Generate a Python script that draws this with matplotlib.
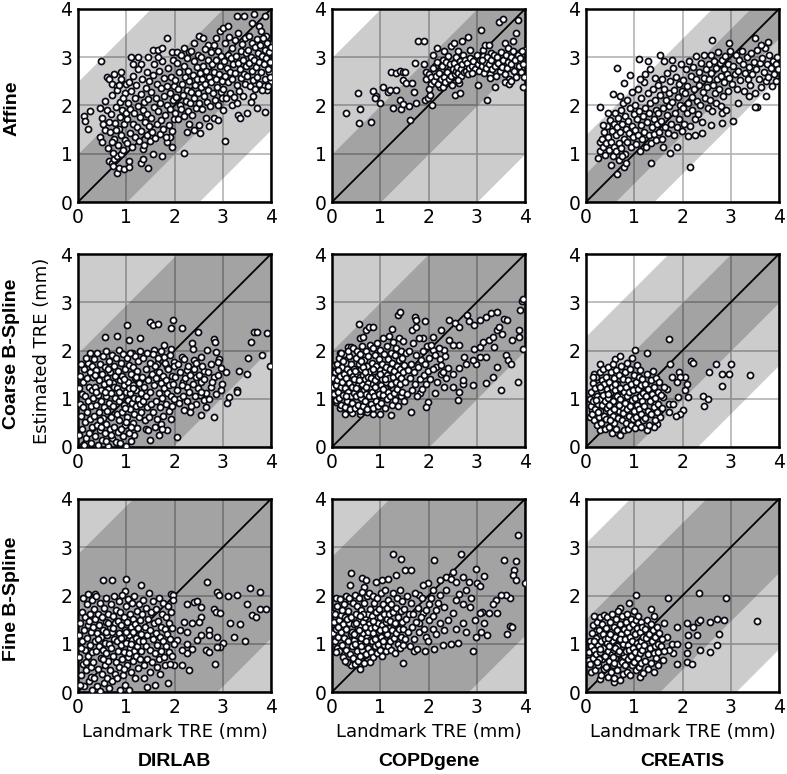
import matplotlib.pyplot as plt
import numpy as np

datasets = ['DIRLAB', 'COPDgene', 'CREATIS']
methods = ['Affine', 'Coarse B-Spline', 'Fine B-Spline']
ticks = [0, 1, 2, 3, 4]

# half widths (mm) of the dark and light bands around y = x, [method][dataset]
band_inner = [[1.0, 1.0, 0.6], [1.95, 2.0, 1.0], [2.87, 2.82, 1.52]]
band_outer = [[2.5, 3.0, 1.4], [4.5, 4.5, 2.3], [5.0, 5.0, 3.1]]

# (landmark TRE, estimated TRE) in mm
dirlab_affine = [
    (0.12,1.78),(0.15,1.68),(0.2,1.52),(0.25,1.88),(0.47,2.92),
    (0.45,1.35),(0.5,1.25),(0.55,1.5),(0.5,1.75),(0.45,1.95),(0.55,2.1),(0.6,1.9),(0.52,1.62),
    (0.6,2.6),(0.65,2.55),(0.75,2.65),(0.7,2.45),(0.8,2.4),(0.9,2.55),(0.9,2.7),(1.0,2.45),
    (0.65,0.85),(0.7,0.8),(0.72,0.75),(0.75,0.9),(0.8,0.6),(0.85,0.7),(0.95,0.68),(1.05,0.72),
    (0.8,0.95),(0.9,1.0),(1.05,0.85),(1.3,0.8),(1.35,0.9),(1.45,0.7),(1.35,1.1),(1.55,1.0),
    (1.75,0.95),(1.85,1.25),(1.9,1.35),(1.95,1.15),
    (1.1,3.0),(1.25,3.0),(1.3,2.85),(1.45,3.0),(1.55,3.15),(1.65,3.15),(1.75,3.2),(1.85,3.4),
    (1.95,3.1),(2.05,3.1),(2.2,3.2),(2.3,3.1),(2.4,3.3),(2.5,3.45),(2.6,3.4),(2.7,3.25),
    (2.85,3.4),(2.95,3.55),(3.0,3.6),(3.1,3.65),(3.29,3.85),(3.45,3.85),(3.65,3.89),(3.6,3.7),
    (3.75,3.65),(3.8,3.55),(3.88,3.85),(3.9,3.45),(3.95,3.3),
    (2.2,1.02),(2.25,1.45),(2.4,1.5),(2.53,1.42),(2.5,1.6),(2.72,1.58),(2.81,1.74),(3.05,1.27),
    (2.91,1.7),(3.0,1.9),(3.2,2.0),(3.32,1.8),(3.36,1.74),(3.5,1.85),(3.58,2.08),(3.7,1.94),
    (3.88,1.87),(3.91,2.33),(3.85,2.4),(3.99,2.5),(3.95,2.7),
    (0.62,1.12),(0.66,1.45),(0.68,1.83),(0.71,2.21),(0.73,1.02),(0.75,1.31),(0.77,1.64),(0.79,1.97),
    (0.81,2.33),(0.83,1.18),(0.85,1.52),(0.87,1.76),(0.88,2.08),(0.9,1.38),(0.92,1.9),(0.94,1.07),
    (0.95,1.61),(0.97,2.25),(0.98,1.28),(0.99,1.84),(0.64,1.66),(0.7,1.25),(0.86,2.42),(0.93,2.15),
    (0.78,1.49),
    (1.01,1.22),(1.02,1.71),(1.04,2.05),(1.05,2.48),(1.07,1.43),(1.08,1.93),(1.1,2.3),(1.11,1.15),
    (1.13,1.62),(1.14,2.62),(1.16,1.84),(1.18,2.16),(1.19,1.35),(1.21,2.42),(1.22,1.55),(1.24,1.98),
    (1.25,2.75),(1.27,1.26),(1.28,1.76),(1.3,2.23),(1.31,1.48),(1.33,2.55),(1.34,1.9),(1.36,1.18),
    (1.37,2.07),(1.39,1.66),(1.4,2.37),(1.42,1.38),(1.43,2.69),(1.44,1.83),(1.46,2.14),(1.47,1.57),
    (1.48,2.5),(1.49,1.27),(1.15,2.85),
    (1.51,1.74),(1.52,2.28),(1.54,1.45),(1.55,2.63),(1.57,1.96),(1.58,2.85),(1.6,1.33),(1.61,2.15),
    (1.63,1.62),(1.64,2.45),(1.66,1.88),(1.67,2.72),(1.69,1.41),(1.7,2.05),(1.72,2.36),(1.73,1.7),
    (1.75,2.92),(1.76,1.52),(1.78,2.2),(1.79,2.58),(1.81,1.8),(1.82,1.35),(1.84,2.41),(1.85,2.01),
    (1.87,2.78),(1.88,1.6),(1.9,2.25),(1.91,1.93),(1.93,2.6),(1.94,1.48),(1.96,2.12),(1.97,2.95),
    (1.98,1.72),(1.99,2.4),(1.65,3.0),
    (2.01,1.85),(2.02,2.52),(2.04,2.18),(2.05,2.88),(2.07,1.72),(2.08,2.35),(2.1,2.7),(2.11,2.02),
    (2.13,3.05),(2.14,1.93),(2.16,2.45),(2.17,2.22),(2.19,2.82),(2.2,1.78),(2.22,2.6),(2.23,2.1),
    (2.25,2.98),(2.26,2.33),(2.28,1.88),(2.29,2.72),(2.31,2.5),(2.32,2.05),(2.34,3.12),(2.35,2.28),
    (2.37,1.8),(2.38,2.64),(2.4,2.92),(2.41,2.15),(2.43,2.42),(2.44,1.95),(2.46,2.8),(2.47,2.55),
    (2.48,3.05),(2.49,2.25),(2.3,1.62),
    (2.51,2.05),(2.52,2.68),(2.54,2.38),(2.55,3.0),(2.57,1.92),(2.58,2.55),(2.6,2.82),(2.61,2.2),
    (2.63,3.18),(2.64,2.45),(2.66,2.72),(2.67,2.08),(2.69,2.95),(2.7,2.32),(2.72,2.6),(2.73,1.98),
    (2.75,3.1),(2.76,2.48),(2.78,2.85),(2.79,2.25),(2.81,2.7),(2.82,3.25),(2.84,2.12),(2.85,2.55),
    (2.87,2.95),(2.88,2.38),(2.9,3.12),(2.91,2.02),(2.93,2.65),(2.94,2.82),(2.96,2.28),(2.97,3.02),
    (2.98,2.5),(2.99,2.15),(2.65,1.75),
    (3.01,2.35),(3.02,2.92),(3.04,2.62),(3.05,3.3),(3.07,2.15),(3.08,2.78),(3.1,3.05),(3.11,2.48),
    (3.13,3.42),(3.14,2.7),(3.16,2.25),(3.17,2.98),(3.19,3.2),(3.2,2.55),(3.22,2.85),(3.23,2.18),
    (3.25,3.35),(3.26,2.68),(3.28,3.02),(3.29,2.42),(3.31,2.88),(3.32,3.5),(3.34,2.3),(3.35,2.75),
    (3.37,3.12),(3.38,2.58),(3.4,3.28),(3.41,2.2),(3.43,2.95),(3.44,2.65),(3.46,3.4),(3.47,2.45),
    (3.48,3.08),(3.49,2.82),(3.3,2.05),
    (3.51,2.62),(3.52,3.15),(3.54,2.88),(3.55,3.45),(3.57,2.4),(3.58,3.0),(3.6,2.72),(3.61,3.3),
    (3.63,2.52),(3.64,2.95),(3.66,3.22),(3.67,2.35),(3.69,2.8),(3.7,3.38),(3.72,2.6),(3.73,3.08),
    (3.75,2.45),(3.76,2.9),(3.78,3.25),(3.79,2.7),(3.81,3.02),(3.82,2.32),(3.84,3.4),(3.85,2.85),
    (3.87,3.15),(3.88,2.55),(3.9,2.98),(3.91,3.3),(3.93,2.4),(3.94,2.75),(3.96,3.1),(3.97,2.6),
    (3.98,2.9),(3.99,3.22),(3.62,2.2),
]

copd_affine = [
    (0.28,1.85),(0.54,2.25),(0.59,1.93),(0.56,1.63),(0.8,1.66),(0.85,2.31),(0.92,2.2),(0.9,2.15),
    (1.0,2.05),(1.06,2.38),(1.16,2.27),(1.21,2.32),(1.23,2.7),(1.33,2.68),(1.4,2.72),(1.47,2.7),
    (1.52,2.7),(1.26,1.94),(1.33,2.32),(1.4,2.11),(1.43,1.92),(1.47,2.04),(1.48,2.52),(1.54,2.46),
    (1.59,1.98),(1.62,1.69),(1.66,2.47),(1.69,2.27),(1.72,2.88),(1.74,2.06),(1.79,3.34),(1.9,3.34),
    (1.9,2.86),(1.95,2.7),(1.92,2.11),(1.99,2.15),(2.03,2.22),(2.08,2.01),(2.09,3.05),(2.14,2.82),
    (2.17,3.19),(2.19,2.54),(2.23,2.39),(2.26,2.74),(2.3,2.95),(2.33,3.12),(2.37,2.46),(2.4,3.02),
    (2.43,2.74),(2.47,3.23),(2.52,3.29),(2.54,2.22),(2.57,2.95),(2.61,3.12),(2.64,2.46),(2.66,2.25),
    (2.7,3.33),(2.72,3.05),(2.78,2.81),(2.82,3.43),(2.85,3.15),(2.88,2.91),(2.92,2.7),(2.95,2.88),
    (2.99,2.98),(3.02,2.43),(3.09,3.57),(3.12,3.15),(3.17,3.26),(3.21,2.11),(3.26,3.26),(3.3,3.08),
    (3.33,2.91),(3.37,2.39),(3.41,2.91),(3.46,3.74),(3.54,3.79),(3.59,3.29),(3.64,3.19),(3.68,2.53),
    (3.71,2.77),(3.76,3.33),(3.81,3.5),(3.85,3.77),(3.88,3.08),(3.92,2.7),(3.95,2.39),(3.99,3.15),
    (1.95,2.55),(2.0,2.65),(2.05,2.45),(2.06,2.6),(2.1,2.78),(2.12,2.5),(2.15,2.62),(2.18,2.9),
    (2.2,2.45),(2.22,2.68),(2.25,2.55),(2.28,2.82),(2.3,2.38),(2.32,2.6),(2.35,2.48),(2.36,2.9),
    (2.38,2.7),(2.42,2.55),(2.44,2.85),(2.46,2.62),(2.5,2.75),(2.52,2.88),(2.55,2.65),(2.56,3.0),
    (2.58,2.72),(2.6,2.8),(2.62,2.68),(2.65,2.92),(2.67,2.75),(2.68,2.62),(2.7,2.85),(2.73,2.7),
    (2.75,2.95),(2.77,2.72),(2.8,2.88),(2.82,2.65),(2.84,2.78),(2.86,2.98),(2.9,2.82),(2.93,2.92),
    (2.96,2.75),(3.0,3.05),(3.02,2.85),(3.05,2.72),(3.07,2.95),(3.1,2.82),(3.13,3.02),(3.15,2.68),
    (3.18,2.9),(3.2,2.78),(3.22,3.0),(3.25,2.85),(3.28,2.65),(3.3,2.95),(3.32,2.75),(3.35,3.05),
    (3.38,2.82),(3.4,2.62),(3.42,3.0),(3.45,2.88),(3.48,2.72),(3.5,3.1),(3.52,2.8),(3.55,2.95),
    (3.58,2.65),(3.6,3.05),(3.62,2.78),(3.65,2.9),(3.67,2.55),(3.7,3.0),(3.72,2.85),(3.75,3.12),
    (3.78,2.72),(3.8,2.95),(3.82,2.6),(3.85,3.05),(3.87,2.82),(3.9,2.98),(3.93,3.12),(3.96,2.85),
    (3.98,2.6),(3.58,2.48),(3.66,2.45),(3.72,2.5),(3.27,2.58),(2.48,2.42),(2.62,2.52),(2.9,2.68),
    (3.1,2.95),(2.02,2.35),
]

creatis_affine = [
    (0.28,1.96),(0.25,0.92),(0.28,1.25),(0.64,2.78),(0.56,2.24),(0.71,2.19),(0.78,2.46),(0.92,2.64),
    (1.09,2.96),(1.28,2.92),(1.33,2.75),(1.54,3.04),(1.62,2.92),(1.34,0.8),(0.64,0.59),(0.52,0.77),
    (0.79,0.73),(0.83,0.81),(2.15,0.73),(2.62,3.35),(2.97,3.3),(3.5,3.39),(3.77,3.32),(3.94,2.5),
    (3.55,1.97),(3.5,1.97),(3.05,1.67),(2.81,1.84),(2.81,1.63),(2.6,1.6),(2.4,1.44),(2.26,1.39),
    (2.12,1.37),(1.88,1.13),(1.74,1.01),(1.6,1.15),(3.74,2.19),(3.38,2.19),(3.15,2.05),
    (0.3,1.05),(0.33,1.3),(0.36,1.15),(0.38,1.45),(0.4,0.98),(0.42,1.22),(0.44,1.58),(0.46,1.35),
    (0.48,1.08),(0.5,1.7),(0.52,1.25),(0.54,1.48),(0.55,0.95),(0.57,1.62),(0.58,1.15),(0.6,1.85),
    (0.62,1.38),(0.63,1.05),(0.65,1.55),(0.67,1.75),(0.68,1.22),(0.69,0.88),(0.35,1.6),(0.45,1.85),
    (0.7,1.45),(0.72,1.9),(0.73,1.12),(0.75,1.62),(0.76,2.05),(0.78,1.3),(0.8,1.78),(0.81,1.0),
    (0.83,1.52),(0.85,2.12),(0.86,1.25),(0.88,1.68),(0.9,1.42),(0.91,1.95),(0.93,1.15),(0.95,1.58),
    (0.96,2.28),(0.98,1.35),(0.99,1.82),(0.74,0.95),
    (1.01,1.5),(1.02,2.02),(1.04,1.2),(1.05,1.72),(1.07,2.35),(1.08,1.38),(1.1,1.88),(1.12,1.05),
    (1.13,1.6),(1.15,2.15),(1.16,1.3),(1.18,1.78),(1.2,2.48),(1.21,1.45),(1.23,1.95),(1.25,1.15),
    (1.26,1.65),(1.28,2.25),(1.3,1.38),(1.31,1.85),(1.33,2.05),(1.35,1.22),(1.36,1.55),(1.38,2.35),
    (1.4,1.72),(1.41,1.4),(1.43,2.12),(1.45,1.9),(1.46,1.28),(1.48,1.62),(1.49,2.42),(1.22,2.65),
    (1.44,2.58),(1.12,2.55),
    (1.5,1.85),(1.52,1.45),(1.53,2.22),(1.55,1.68),(1.57,2.55),(1.58,1.3),(1.6,1.95),(1.62,2.35),
    (1.63,1.55),(1.65,2.12),(1.67,1.8),(1.68,2.68),(1.7,1.42),(1.72,2.25),(1.73,1.98),(1.75,2.5),
    (1.77,1.62),(1.78,2.08),(1.8,2.78),(1.82,1.38),(1.83,2.32),(1.85,1.85),(1.87,2.6),(1.88,1.55),
    (1.9,2.18),(1.92,2.45),(1.93,1.72),(1.95,2.0),(1.97,2.85),(1.98,1.48),(1.99,2.3),(1.79,2.95),
    (2.0,1.95),(2.02,2.52),(2.04,1.62),(2.05,2.25),(2.07,2.75),(2.09,1.85),(2.1,2.4),(2.12,2.05),
    (2.14,2.92),(2.15,1.58),(2.17,2.62),(2.19,2.18),(2.2,1.9),(2.22,2.8),(2.24,2.35),(2.25,1.72),
    (2.27,2.55),(2.29,3.02),(2.3,2.1),(2.32,1.82),(2.34,2.7),(2.35,2.42),(2.37,2.0),(2.39,2.88),
    (2.4,1.65),(2.42,2.28),(2.44,2.58),(2.45,3.05),(2.47,2.15),(2.49,2.75),
    (2.5,2.38),(2.52,1.95),(2.54,2.85),(2.55,2.55),(2.57,2.12),(2.59,3.05),(2.6,2.68),(2.62,1.88),
    (2.64,2.42),(2.65,2.92),(2.67,2.25),(2.69,2.78),(2.7,2.05),(2.72,2.55),(2.74,3.1),(2.75,2.35),
    (2.77,2.88),(2.79,1.98),(2.8,2.62),(2.82,2.95),(2.84,2.2),(2.85,2.75),(2.87,2.48),(2.89,3.02),
    (2.9,1.9),(2.92,2.65),(2.94,2.85),(2.95,2.3),(2.97,2.58),(2.99,3.12),
    (3.02,2.45),(3.05,2.82),(3.08,2.65),(3.1,3.05),(3.13,2.35),(3.15,2.72),(3.18,2.95),(3.2,2.52),
    (3.23,3.12),(3.25,2.85),(3.28,2.3),(3.3,2.68),(3.33,3.0),(3.35,2.55),(3.38,2.8),(3.4,2.42),
    (3.43,3.08),(3.45,2.65),(3.48,2.9),(3.5,2.25),(3.53,2.75),(3.55,3.15),(3.58,2.55),(3.6,2.88),
    (3.63,2.38),(3.65,2.98),(3.68,2.7),(3.7,3.2),(3.73,2.5),(3.75,2.85),(3.78,2.6),(3.8,3.05),
    (3.83,2.78),(3.85,2.4),(3.88,2.92),(3.9,2.65),(3.93,2.85),(3.95,3.0),(3.98,2.75),(3.62,3.25),
]

dirlab_coarse = [
    (0.55,2.28),(0.8,2.3),(1.02,2.53),(1.05,2.21),(1.29,2.25),(1.49,2.6),(1.56,2.53),(1.65,2.54),
    (1.92,2.46),(1.97,2.63),(2.16,2.46),(2.48,2.39),(2.37,2.15),(2.39,2.04),(2.82,2.23),(2.83,2.18),
    (2.68,2.01),(2.85,1.97),(2.92,1.83),(2.9,1.76),(3.06,1.56),(2.99,1.31),(2.96,1.18),(3.12,1.04),
    (3.09,0.91),(3.29,1.19),(3.3,1.14),(3.33,1.58),(3.51,1.52),(3.52,1.85),(3.59,2.18),(3.65,2.39),
    (3.72,2.39),(3.82,1.9),(3.92,2.37),(3.98,1.67),(2.82,0.62),(2.54,0.66),(2.53,1.07),(2.61,0.97),
    (2.66,1.11),(2.44,0.9),(2.33,0.73),(2.19,0.76),(2.06,0.21),(1.85,0.35),(1.67,0.24),(1.5,0.15),
    (1.16,0.24),(1.4,0.38),(1.71,0.48),(1.92,0.59),(2.75,1.25),(2.54,1.35),(2.82,1.45),(2.96,1.63),
    (2.75,1.71),(2.61,1.57),(2.44,1.45),(2.26,1.25),(2.18,1.35),(2.09,1.0),(2.26,1.6),(2.4,1.8),
    (2.54,1.87),(2.16,1.87),(1.99,1.76),(1.85,1.66),(1.78,1.87),(1.92,2.04),(1.78,2.11),(1.57,2.01),
    (1.64,1.73),
    (0.02,1.22),(0.04,0.9),(0.05,1.48),(0.06,0.65),(0.08,1.1),(0.09,0.38),(0.1,1.35),(0.11,0.82),
    (0.13,1.62),(0.14,0.52),(0.15,1.05),(0.16,0.18),(0.18,1.42),(0.19,0.72),(0.2,1.75),(0.21,0.95),
    (0.22,0.3),(0.23,1.25),(0.24,0.58),(0.25,1.55),(0.26,0.08),(0.27,0.85),(0.28,1.18),(0.29,1.68),
    (0.3,0.42),(0.12,0.05),(0.17,1.85),(0.07,1.72),(0.25,1.95),(0.03,0.25),
    (0.31,1.02),(0.32,1.45),(0.33,0.65),(0.34,1.82),(0.35,0.22),(0.36,1.25),(0.37,0.88),(0.38,1.6),
    (0.39,0.45),(0.4,1.95),(0.41,1.08),(0.42,0.05),(0.43,1.38),(0.44,0.72),(0.45,1.72),(0.46,0.35),
    (0.47,1.18),(0.48,0.95),(0.49,1.52),(0.5,0.15),(0.51,1.88),(0.52,0.6),(0.53,1.3),(0.54,0.82),
    (0.55,1.65),(0.56,0.28),(0.57,1.05),(0.58,1.98),(0.59,0.48),(0.6,1.42),(0.61,0.75),(0.62,1.2),
    (0.63,0.02),(0.64,1.78),(0.65,0.92),(0.66,0.38),(0.67,1.55),(0.68,1.12),(0.69,0.62),(0.7,1.9),
    (0.71,0.18),(0.72,1.32),(0.73,0.85),(0.74,1.68),(0.75,0.42),(0.76,1.02),(0.77,1.48),(0.78,0.1),
    (0.79,1.85),(0.8,0.68),(0.35,1.5),(0.45,0.55),(0.55,1.15),(0.65,1.35),(0.75,1.25),(0.58,0.12),
    (0.68,0.25),(0.48,0.42),(0.38,1.15),(0.62,1.62),
    (0.81,1.22),(0.82,0.32),(0.83,1.58),(0.84,0.95),(0.85,2.02),(0.86,0.55),(0.87,1.38),(0.88,0.08),
    (0.89,1.75),(0.9,1.05),(0.91,0.72),(0.92,1.48),(0.93,0.22),(0.94,1.92),(0.95,0.88),(0.96,1.28),
    (0.97,0.45),(0.98,1.62),(0.99,1.15),(1.0,0.02),(1.01,1.85),(1.02,0.62),(1.03,1.35),(1.04,0.98),
    (1.05,0.3),(1.06,1.7),(1.07,1.12),(1.08,0.78),(1.09,1.52),(1.1,0.12),(1.11,1.95),(1.12,0.92),
    (1.13,1.28),(1.14,0.5),(1.15,1.65),(1.16,1.02),(1.17,0.68),(1.18,1.42),(1.19,1.88),(1.2,0.85),
    (1.21,1.18),(1.22,0.4),(1.23,1.58),(1.24,1.0),(1.25,1.78),(1.26,0.62),(1.27,1.32),(1.28,0.9),
    (1.29,1.98),(1.3,1.12),(0.85,1.15),(0.95,1.4),(1.05,1.22),(1.15,1.22),(0.9,0.38),(1.0,0.52),
    (1.1,0.42),(0.98,0.8),(1.08,1.95),(1.2,1.45),
    (1.31,0.72),(1.32,1.45),(1.34,1.85),(1.35,0.95),(1.37,1.25),(1.38,0.55),(1.4,1.62),(1.41,1.05),
    (1.43,1.95),(1.44,0.82),(1.46,1.38),(1.47,0.62),(1.49,1.75),(1.5,1.15),(1.52,0.9),(1.53,1.52),
    (1.55,1.92),(1.56,0.72),(1.58,1.28),(1.59,1.68),(1.61,0.95),(1.62,1.42),(1.64,0.58),(1.65,1.85),
    (1.67,1.12),(1.68,1.55),(1.7,0.82),(1.71,1.32),(1.73,1.98),(1.74,1.02),(1.76,0.65),(1.77,1.48),
    (1.79,1.22),(1.8,1.75),(1.82,0.9),(1.83,1.38),(1.85,1.12),(1.86,1.62),(1.88,0.75),(1.89,1.28),
    (1.91,1.9),(1.92,1.05),(1.94,1.48),(1.95,0.85),(1.97,1.3),(1.98,1.68),(1.99,1.0),(1.45,0.35),
    (1.6,0.42),(1.75,0.38),
    (2.02,1.45),(2.05,1.18),(2.08,1.72),(2.1,0.92),(2.12,1.55),(2.15,1.28),(2.18,1.05),(2.2,1.82),
    (2.22,1.42),(2.25,0.95),(2.28,1.68),(2.3,1.15),(2.33,1.5),(2.35,0.85),(2.38,1.3),(2.4,1.62),
    (2.42,1.05),(2.45,1.75),(2.48,1.22),(2.5,1.5),(2.55,1.15),(2.58,1.68),(2.62,1.4),(2.65,0.82),
    (2.7,1.55),(2.72,1.0),(2.78,1.35),(2.85,1.1),(2.9,1.5),
]

copd_coarse = [
    (0.06,1.7),(0.16,1.94),(0.56,2.55),(0.57,2.25),(0.64,2.28),(0.71,2.42),(0.77,2.48),(0.85,2.48),
    (0.33,2.08),(0.4,2.08),(1.25,2.44),(1.37,2.73),(1.4,2.8),(1.71,2.69),(1.74,2.63),(1.92,2.62),
    (1.66,2.42),(1.74,2.49),(1.88,2.25),(2.09,2.27),(2.26,2.42),(2.43,2.63),(2.54,2.56),(2.64,2.48),
    (2.79,2.73),(2.84,2.62),(2.95,2.53),(3.06,2.64),(3.19,2.7),(3.3,2.78),(3.43,2.8),(3.57,2.66),
    (3.62,2.63),(3.74,2.21),(3.9,2.84),(3.93,3.03),(3.95,3.06),(3.88,2.42),(3.87,2.28),(3.95,2.04),
    (3.85,1.35),(3.5,1.19),(3.43,1.66),(3.33,1.45),(3.19,1.33),(2.92,1.28),(2.71,1.31),(2.72,1.38),
    (2.61,0.97),(2.64,1.14),(2.5,1.25),(2.33,1.25),(2.14,1.11),(1.99,0.93),(1.94,0.83),(1.83,1.11),
    (1.64,0.73),(1.23,0.66),(0.99,0.69),(0.85,0.69),(0.72,0.73),(0.59,0.69),(0.42,0.71),(0.26,0.69),
    (0.16,0.8),(0.08,0.93),(0.03,1.25),(3.06,1.87),(2.99,1.73),(2.92,1.81),(2.74,1.87),(2.78,1.73),
    (2.95,2.04),(3.06,2.08),(3.12,2.18),(3.26,2.21),(3.33,2.28),(3.43,2.42),(3.47,2.49),(3.52,2.35),
    (3.61,1.9),(3.64,1.8),(3.71,1.73),(3.36,2.08),(3.19,1.87),(2.64,2.11),(2.5,2.11),(2.43,2.21),
    (2.33,2.01),(2.23,1.83),(2.09,2.01),(2.16,1.66),(2.26,1.52),(2.4,1.63),(2.5,1.52),(2.64,1.63),
    (2.37,1.42),
    (0.03,1.42),(0.05,1.1),(0.06,1.55),(0.08,1.28),(0.09,0.98),(0.1,1.72),(0.11,1.38),(0.13,1.15),
    (0.14,1.85),(0.15,1.02),(0.16,1.48),(0.18,1.25),(0.19,0.88),(0.2,1.65),(0.21,1.35),(0.23,1.08),
    (0.24,1.92),(0.25,1.52),(0.26,0.82),(0.27,1.22),(0.29,1.75),(0.3,1.42),(0.31,0.95),(0.32,1.62),
    (0.33,1.15),(0.35,1.88),(0.36,1.32),(0.37,0.78),(0.38,1.55),(0.39,1.05),(0.12,1.6),(0.22,1.78),
    (0.34,1.98),(0.28,1.05),(0.18,1.95),
    (0.4,1.72),(0.41,1.25),(0.42,0.92),(0.43,1.48),(0.44,2.05),(0.45,1.12),(0.46,1.62),(0.47,0.8),
    (0.48,1.35),(0.49,1.85),(0.5,1.05),(0.51,1.52),(0.52,1.98),(0.53,0.88),(0.54,1.28),(0.55,1.72),
    (0.56,1.15),(0.57,0.75),(0.58,1.45),(0.59,1.92),(0.6,1.02),(0.61,1.62),(0.62,1.3),(0.63,2.1),
    (0.64,0.85),(0.65,1.5),(0.66,1.18),(0.67,1.8),(0.68,0.95),(0.69,1.4),(0.7,2.0),(0.71,1.1),
    (0.72,1.68),(0.73,0.78),(0.74,1.32),(0.75,1.88),(0.76,1.05),(0.77,1.55),(0.78,1.22),(0.79,2.12),
    (0.45,1.4),(0.55,1.38),(0.65,1.65),(0.75,1.45),(0.5,1.22),(0.6,1.78),(0.7,1.25),(0.48,1.58),
    (0.58,1.1),(0.68,1.55),
    (0.8,1.42),(0.81,0.9),(0.82,1.75),(0.83,1.15),(0.84,2.05),(0.85,1.3),(0.86,0.8),(0.87,1.58),
    (0.88,1.05),(0.89,1.9),(0.9,1.38),(0.91,0.95),(0.92,1.68),(0.93,1.2),(0.94,2.15),(0.95,1.48),
    (0.96,0.85),(0.97,1.82),(0.98,1.1),(0.99,1.6),(1.0,2.02),(1.01,1.28),(1.02,0.92),(1.03,1.72),
    (1.04,1.4),(1.05,2.25),(1.06,1.08),(1.07,1.55),(1.08,1.92),(1.09,1.22),(1.1,0.8),(1.11,1.65),
    (1.12,1.35),(1.13,2.1),(1.14,1.0),(1.15,1.5),(1.16,1.82),(1.17,1.15),(1.18,2.3),(1.19,1.42),
    (0.9,1.25),(1.0,1.52),(1.1,1.4),(0.85,1.62),(1.05,1.2),
    (1.2,1.62),(1.21,1.05),(1.22,1.95),(1.23,1.3),(1.24,0.88),(1.25,1.75),(1.26,1.45),(1.27,2.18),
    (1.28,1.12),(1.29,1.58),(1.3,1.9),(1.31,0.98),(1.32,1.35),(1.33,2.05),(1.34,1.68),(1.35,1.2),
    (1.36,1.5),(1.37,0.85),(1.38,2.25),(1.39,1.8),(1.4,1.3),(1.41,1.62),(1.42,1.05),(1.43,2.0),
    (1.44,1.42),(1.45,1.85),(1.46,1.15),(1.47,1.55),(1.48,2.2),(1.49,0.95),(1.5,1.7),(1.52,1.35),
    (1.54,1.95),(1.56,1.1),(1.58,1.6),
    (1.6,2.0),(1.62,1.42),(1.64,1.72),(1.66,1.18),(1.68,2.15),(1.7,1.55),(1.72,1.3),(1.74,1.9),
    (1.76,1.05),(1.78,1.65),(1.8,2.25),(1.82,1.4),(1.84,1.8),(1.86,1.2),(1.88,1.98),(1.9,1.5),
    (1.92,1.72),(1.94,1.3),(1.96,2.1),(1.98,1.58),(2.0,1.85),(2.03,1.4),(2.06,2.12),(2.1,1.62),
    (2.14,1.9),(2.18,1.35),(2.22,2.05),(2.26,1.7),(2.3,1.55),(2.35,1.88),
]

creatis_coarse = [
    (1.71,2.23),(1.01,2.01),(1.26,1.95),(0.28,1.71),(0.17,1.51),(0.61,1.83),(0.71,1.88),(1.74,1.73),
    (1.93,1.56),(2.17,1.78),(2.22,1.75),(2.55,1.56),(2.69,1.73),(2.81,1.52),(2.96,1.52),(3.0,1.73),
    (2.81,1.26),(3.39,1.5),(2.43,1.05),(2.53,1.0),(2.44,0.84),(2.12,1.04),(2.0,0.76),(1.95,0.69),
    (1.87,0.64),(1.73,0.73),(1.71,0.9),(1.81,0.9),(1.91,1.04),(2.05,1.18),(2.09,1.31),(2.05,1.45),
    (1.95,1.45),(1.88,1.35),(1.78,1.45),(1.67,1.21),(1.6,1.04),(1.54,0.76),(1.47,0.48),(1.4,0.42),
    (1.54,0.62),(1.43,0.9),(1.26,0.35),(0.67,0.28),(0.3,0.35),(0.09,0.62),(0.09,1.0),(0.12,0.76),
    (0.1,0.85),(0.11,1.15),(0.13,0.68),(0.14,1.32),(0.15,0.95),(0.17,0.55),(0.18,1.22),(0.19,0.78),
    (0.21,1.45),(0.22,1.05),(0.23,0.45),(0.25,0.9),(0.26,1.28),(0.27,0.62),(0.28,1.55),(0.29,1.0),
    (0.3,0.75),(0.31,1.18),(0.32,0.5),(0.33,1.38),(0.34,0.88),(0.35,1.62),(0.36,1.08),(0.37,0.65),
    (0.38,1.3),(0.39,0.38),(0.2,0.98),(0.3,1.25),(0.15,1.45),(0.25,0.72),
    (0.4,0.95),(0.41,1.45),(0.42,0.58),(0.43,1.2),(0.44,0.8),(0.45,1.65),(0.46,1.02),(0.47,0.42),
    (0.48,1.35),(0.49,0.72),(0.5,1.12),(0.51,1.55),(0.52,0.88),(0.53,0.3),(0.54,1.25),(0.55,0.65),
    (0.56,1.72),(0.57,1.0),(0.58,0.5),(0.59,1.42),(0.6,0.82),(0.61,1.18),(0.62,0.38),(0.63,1.6),
    (0.64,0.95),(0.65,1.3),(0.66,0.6),(0.67,1.08),(0.68,1.5),(0.69,0.75),(0.7,0.25),(0.71,1.22),
    (0.72,0.9),(0.73,1.68),(0.74,0.55),(0.75,1.05),(0.76,1.4),(0.77,0.7),(0.78,0.35),(0.79,1.15),
    (0.45,1.1),(0.55,0.95),(0.65,1.05),(0.75,0.82),(0.5,0.55),(0.6,1.3),(0.7,1.0),(0.58,0.78),
    (0.68,0.88),(0.48,0.88),
    (0.8,0.92),(0.81,1.55),(0.82,0.5),(0.83,1.25),(0.84,0.78),(0.85,1.75),(0.86,1.05),(0.87,0.38),
    (0.88,1.38),(0.89,0.65),(0.9,1.15),(0.91,1.62),(0.92,0.85),(0.93,0.45),(0.94,1.3),(0.95,0.98),
    (0.96,1.85),(0.97,0.58),(0.98,1.18),(0.99,0.75),(1.0,1.5),(1.01,0.4),(1.02,1.02),(1.03,1.35),
    (1.04,0.62),(1.05,1.7),(1.06,0.88),(1.07,1.2),(1.08,0.5),(1.09,1.45),(1.1,0.78),(1.11,1.05),
    (1.12,1.6),(1.13,0.42),(1.14,1.28),(1.15,0.68),(1.16,0.95),(1.17,1.4),(1.18,0.55),(1.19,1.12),
    (1.2,0.85),(1.22,1.3),(1.23,0.6),(1.25,1.05),(1.26,1.52),(1.28,0.75),(1.29,1.2),(1.31,0.45),
    (1.32,0.95),(1.34,1.38),(1.35,0.68),(1.37,1.1),(1.38,1.58),(1.4,0.82),(1.41,1.25),(1.43,0.55),
    (1.44,1.02),(1.46,1.42),(1.47,0.72),(1.49,1.15),(1.5,0.9),(1.52,1.35),(1.55,1.08),(1.58,0.8),
    (1.62,1.25),
]

dirlab_fine = [
    (0.52,2.32),(0.7,2.32),(1.0,2.34),(1.31,2.21),(0.2,2.04),(0.36,2.04),(0.98,2.09),(1.93,2.04),
    (1.97,2.01),(2.67,2.28),(2.88,2.08),(2.92,2.01),(3.1,1.99),(3.3,2.01),(3.57,2.15),(3.77,2.08),
    (3.5,1.83),(3.77,1.73),(3.9,1.73),(3.61,1.59),(3.68,1.56),(3.16,1.43),(3.35,1.4),(3.47,1.06),
    (3.23,1.14),(3.0,1.02),(2.95,0.93),(2.88,0.93),(2.71,1.28),(2.66,0.87),(2.71,0.83),(2.83,0.59),
    (2.31,0.46),(2.36,0.9),(2.26,0.8),(2.16,0.55),(1.98,0.55),(1.81,0.55),(1.64,0.52),(1.87,0.19),
    (1.6,0.15),(1.43,0.1),(2.26,1.83),(2.4,1.87),(2.47,1.89),(2.55,1.76),(2.55,1.56),(2.81,1.73),
    (2.87,1.66),(2.95,1.63),(2.5,1.45),(2.36,1.42),(2.19,1.45),(2.12,1.28),(2.26,1.25),(2.55,1.18),
    (2.71,1.18),(2.88,1.14),(2.47,1.07),(2.26,1.0),(2.05,1.07),(2.16,0.87),
    (0.02,1.18),(0.03,0.72),(0.05,1.42),(0.06,0.35),(0.08,1.05),(0.09,1.65),(0.1,0.58),(0.12,1.28),
    (0.13,0.12),(0.14,0.88),(0.15,1.55),(0.17,0.45),(0.18,1.12),(0.19,1.82),(0.2,0.75),(0.21,1.38),
    (0.22,0.22),(0.24,0.98),(0.25,1.62),(0.26,0.52),(0.27,1.25),(0.28,1.9),(0.29,0.82),(0.3,0.05),
    (0.04,0.15),(0.11,1.95),(0.16,0.62),(0.23,1.48),(0.07,0.92),(0.27,0.32),
    (0.31,1.35),(0.32,0.62),(0.33,1.72),(0.34,0.28),(0.35,1.05),(0.36,1.52),(0.37,0.85),(0.38,2.0),
    (0.39,0.12),(0.4,1.22),(0.41,0.48),(0.42,1.62),(0.43,0.95),(0.44,1.38),(0.45,0.02),(0.46,1.85),
    (0.47,0.7),(0.48,1.15),(0.49,0.38),(0.5,1.55),(0.51,0.88),(0.52,1.28),(0.53,0.18),(0.54,1.75),
    (0.55,1.02),(0.56,0.55),(0.57,1.45),(0.58,0.8),(0.59,1.95),(0.6,0.3),(0.61,1.18),(0.62,0.65),
    (0.63,1.62),(0.64,1.0),(0.65,0.08),(0.66,1.35),(0.67,0.45),(0.68,1.82),(0.69,0.92),(0.7,1.25),
    (0.71,0.22),(0.72,1.58),(0.73,0.75),(0.74,1.1),(0.75,1.98),(0.76,0.38),(0.77,1.42),(0.78,0.62),
    (0.79,1.7),(0.8,1.05),(0.42,1.1),(0.52,0.68),(0.62,1.42),(0.72,1.32),(0.58,1.25),
    (0.81,0.28),(0.82,1.48),(0.83,0.85),(0.84,1.88),(0.85,0.52),(0.86,1.22),(0.87,0.05),(0.88,1.65),
    (0.89,0.98),(0.9,1.38),(0.91,0.68),(0.92,2.02),(0.93,0.35),(0.94,1.15),(0.95,1.55),(0.96,0.82),
    (0.97,1.28),(0.98,0.15),(0.99,1.78),(1.0,1.02),(1.01,0.55),(1.02,1.45),(1.03,1.92),(1.04,0.72),
    (1.05,1.18),(1.06,0.05),(1.07,1.62),(1.08,0.92),(1.09,1.35),(1.1,0.42),(1.11,1.85),(1.12,1.08),
    (1.13,0.65),(1.14,1.52),(1.15,1.25),(1.16,0.85),(1.17,1.98),(1.18,0.3),(1.19,1.4),(1.2,1.12),
    (1.21,0.75),(1.22,1.68),(1.23,0.95),(1.24,1.32),(1.25,0.5),(1.26,1.82),(1.27,1.05),(1.28,0.68),
    (1.29,1.5),(1.3,1.2),(0.9,1.12),(1.0,1.25),(1.1,1.0),(0.95,0.48),(1.05,0.8),
    (1.31,0.85),(1.32,1.62),(1.34,1.05),(1.35,1.9),(1.37,0.55),(1.38,1.35),(1.4,0.95),(1.41,1.75),
    (1.43,1.18),(1.44,0.68),(1.46,1.52),(1.47,2.05),(1.49,0.88),(1.5,1.28),(1.52,1.65),(1.53,0.62),
    (1.55,1.1),(1.56,1.88),(1.58,1.42),(1.59,0.8),(1.61,1.22),(1.62,1.72),(1.64,0.98),(1.65,1.48),
    (1.67,0.68),(1.68,1.95),(1.7,1.15),(1.71,1.35),(1.73,0.85),(1.74,1.62),(1.76,1.05),(1.77,1.85),
    (1.79,0.72),(1.8,1.3),(1.82,1.55),(1.83,0.95),(1.85,1.2),(1.86,1.78),(1.88,0.82),(1.89,1.42),
    (1.91,1.1),(1.92,1.65),(1.94,0.75),(1.95,1.32),(1.97,1.9),(1.98,1.0),(1.5,0.42),(1.7,0.38),
    (1.36,0.3),(1.9,0.58),
]

copd_fine = [
    (0.03,1.63),(0.08,1.94),(0.4,2.47),(0.37,2.21),(0.63,2.37),(0.7,2.32),(0.66,2.18),(0.92,2.28),
    (1.04,2.33),(1.16,2.34),(1.26,2.86),(1.42,2.75),(1.52,2.53),(1.64,2.53),(1.33,2.42),(0.59,0.48),
    (0.4,0.55),(0.68,0.76),(0.79,0.62),(1.47,0.6),(1.69,0.85),(1.93,0.85),(2.12,0.9),(2.3,0.97),
    (2.47,1.0),(2.62,1.02),(2.93,0.84),(2.99,1.14),(3.09,1.25),(3.21,1.18),(3.62,1.2),(3.69,1.37),
    (3.74,1.35),(3.85,3.25),(3.56,2.73),(3.81,2.71),(3.78,2.53),(3.76,2.42),(3.81,2.33),(3.99,2.26),
    (3.69,1.94),(3.61,2.01),(3.5,2.01),(3.39,1.9),(3.33,1.82),(3.43,1.63),(3.26,1.63),(3.11,1.66),
    (3.06,1.63),(2.97,1.49),(3.16,1.42),(2.99,2.54),(3.16,2.41),(3.0,2.25),(3.06,2.19),(2.83,2.28),
    (2.68,2.87),(2.12,2.73),(2.23,2.32),(2.37,2.39),(2.47,2.35),(2.5,2.49),(2.57,2.28),(2.71,2.39),
    (2.78,2.11),(2.64,2.04),(2.57,1.9),(2.71,1.83),(2.88,1.94),(2.85,1.76),(2.37,2.11),(2.23,2.01),
    (2.09,2.11),(1.99,2.25),(1.88,2.21),(1.81,2.01),(2.02,1.83),(2.16,1.7),(2.33,1.76),(2.5,1.63),
    (2.4,1.49),(2.23,1.42),(2.09,1.31),(2.33,1.28),(2.57,1.31),(2.71,1.42),(2.78,1.25),(1.95,1.14),
    (1.81,1.42),(1.88,1.63),
    (0.03,1.22),(0.04,1.45),(0.06,1.05),(0.07,1.62),(0.09,1.3),(0.1,0.92),(0.11,1.78),(0.12,1.15),
    (0.14,1.5),(0.15,0.85),(0.16,1.92),(0.18,1.25),(0.19,1.6),(0.2,0.98),(0.22,1.4),(0.23,0.72),
    (0.24,1.82),(0.25,1.12),(0.27,1.55),(0.28,0.88),(0.29,1.98),(0.3,1.3),(0.32,0.62),(0.33,1.68),
    (0.34,1.05),(0.35,1.42),(0.37,0.78),(0.38,1.88),(0.39,1.2),(0.08,0.82),(0.13,1.35),(0.21,1.7),
    (0.26,0.65),(0.31,1.52),(0.36,1.95),
    (0.4,1.55),(0.41,0.95),(0.42,1.25),(0.43,1.85),(0.44,0.7),(0.45,1.4),(0.46,1.08),(0.47,2.02),
    (0.48,0.58),(0.49,1.62),(0.5,1.18),(0.51,0.85),(0.52,1.78),(0.53,1.32),(0.54,0.65),(0.55,1.5),
    (0.56,1.95),(0.57,1.02),(0.58,1.38),(0.59,0.75),(0.6,1.7),(0.61,1.12),(0.62,2.08),(0.63,0.88),
    (0.64,1.45),(0.65,1.22),(0.66,0.6),(0.67,1.85),(0.68,1.02),(0.69,1.55),(0.7,1.3),(0.71,0.78),
    (0.72,1.98),(0.73,1.15),(0.74,1.62),(0.75,0.92),(0.76,1.4),(0.77,2.05),(0.78,1.08),(0.79,1.72),
    (0.45,1.2),(0.55,1.28),(0.65,1.62),(0.75,1.25),(0.5,1.42),(0.6,0.95),(0.7,1.05),(0.48,1.0),
    (0.58,1.58),(0.68,1.35),
    (0.8,1.32),(0.81,0.82),(0.82,1.58),(0.83,1.05),(0.84,2.0),(0.85,1.22),(0.86,0.72),(0.87,1.45),
    (0.88,1.85),(0.89,0.95),(0.9,1.35),(0.91,1.65),(0.92,1.12),(0.93,0.8),(0.94,1.95),(0.95,1.42),
    (0.96,1.0),(0.97,1.72),(0.98,1.25),(0.99,0.88),(1.0,1.55),(1.01,2.05),(1.02,1.15),(1.03,1.38),
    (1.04,0.75),(1.05,1.82),(1.06,1.28),(1.07,0.98),(1.08,1.62),(1.09,2.12),(1.1,1.08),(1.11,1.45),
    (1.12,0.85),(1.13,1.75),(1.14,1.2),(1.15,1.52),(1.16,0.95),(1.17,1.9),(1.18,1.32),(1.19,1.62),
    (0.9,1.1),(1.0,1.28),(1.1,1.3),(0.85,1.48),(1.05,1.05),
    (1.2,1.05),(1.21,1.48),(1.22,1.82),(1.23,0.88),(1.25,1.28),(1.26,1.65),(1.27,2.05),(1.28,1.12),
    (1.3,1.42),(1.31,0.8),(1.32,1.75),(1.33,1.22),(1.35,1.95),(1.36,1.0),(1.37,1.55),(1.38,1.3),
    (1.4,2.12),(1.41,0.92),(1.42,1.68),(1.43,1.15),(1.45,1.45),(1.46,1.88),(1.47,0.98),(1.48,1.3),
    (1.5,1.72),(1.52,1.1),(1.54,1.52),(1.56,2.0),(1.58,1.25),(1.6,1.62),
    (1.62,0.95),(1.64,1.85),(1.66,1.35),(1.68,1.62),(1.7,1.1),(1.72,2.05),(1.74,1.45),(1.76,0.9),
    (1.78,1.75),(1.8,1.25),(1.84,1.55),(1.86,1.95),(1.9,1.3),(1.94,1.7),(1.98,1.05),(2.0,1.5),
    (2.05,1.95),(2.1,1.58),(2.15,1.2),(2.2,1.85),
]

creatis_fine = [
    (0.17,1.57),(0.21,1.26),(0.36,1.25),(0.7,1.75),(0.9,1.85),(1.04,2.01),(1.34,1.73),(1.69,1.94),
    (2.34,2.06),(2.9,1.94),(3.55,1.47),(1.62,1.44),(1.88,1.35),(2.09,1.42),(2.22,1.35),(2.33,1.45),
    (2.36,1.5),(2.57,1.45),(2.71,1.52),(2.86,1.49),(2.76,1.21),(2.71,0.97),(2.57,0.83),(2.36,0.87),
    (2.12,1.18),(2.1,0.8),(2.31,1.18),(2.12,0.97),(1.89,0.59),(2.1,0.62),(2.19,0.59),(1.81,0.8),
    (1.78,1.0),(1.67,1.14),(1.88,1.0),(1.71,0.87),(1.6,0.66),(1.5,0.55),(1.4,0.42),(1.12,0.31),
    (0.57,0.21),(0.3,0.26),(0.1,0.42),(0.06,0.66),
    (0.06,0.82),(0.08,1.05),(0.09,0.58),(0.11,0.95),(0.12,1.22),(0.14,0.7),(0.15,1.38),(0.17,0.88),
    (0.18,0.45),(0.2,1.12),(0.21,0.78),(0.23,1.45),(0.24,0.98),(0.25,0.55),(0.27,1.28),(0.28,0.82),
    (0.29,1.55),(0.31,1.05),(0.32,0.35),(0.33,0.68),(0.35,1.2),(0.36,0.92),(0.37,1.6),(0.38,0.48),
    (0.39,1.1),(0.16,1.05),(0.26,0.68),(0.34,1.4),(0.22,0.62),(0.3,0.9),
    (0.4,0.75),(0.41,1.32),(0.42,0.52),(0.43,1.02),(0.44,1.55),(0.45,0.85),(0.46,0.32),(0.47,1.18),
    (0.48,0.65),(0.49,1.45),(0.5,0.95),(0.51,0.42),(0.52,1.25),(0.53,0.78),(0.54,1.62),(0.55,1.05),
    (0.56,0.55),(0.57,1.35),(0.58,0.88),(0.59,0.28),(0.6,1.15),(0.61,0.7),(0.62,1.52),(0.63,0.98),
    (0.64,0.45),(0.65,1.28),(0.66,0.8),(0.67,1.68),(0.68,1.08),(0.69,0.58),(0.7,0.25),(0.71,1.4),
    (0.72,0.9),(0.73,1.2),(0.74,0.62),(0.75,1.58),(0.76,1.0),(0.77,0.38),(0.78,1.3),(0.79,0.75),
    (0.45,1.12),(0.55,0.72),(0.65,0.95),(0.75,0.82),(0.5,1.2),(0.6,0.92),(0.7,1.1),(0.58,0.6),
    (0.68,0.85),(0.48,0.95),
    (0.8,1.1),(0.81,0.55),(0.82,1.45),(0.83,0.85),(0.84,1.25),(0.85,0.42),(0.86,1.62),(0.87,0.98),
    (0.88,0.68),(0.89,1.35),(0.9,0.88),(0.91,1.15),(0.92,0.35),(0.93,1.52),(0.94,0.75),(0.95,1.05),
    (0.96,0.55),(0.97,1.4),(0.98,0.92),(0.99,1.68),(1.0,0.62),(1.01,1.2),(1.02,0.82),(1.03,1.5),
    (1.04,0.45),(1.05,1.02),(1.06,1.32),(1.07,0.7),(1.08,1.58),(1.09,0.95),(1.1,0.52),(1.11,1.25),
    (1.12,0.8),(1.13,1.45),(1.14,1.05),(1.15,0.6),(1.16,1.35),(1.17,0.88),(1.18,1.15),(1.19,0.4),
    (1.2,0.98),(1.22,1.3),(1.23,0.65),(1.25,1.12),(1.26,1.5),(1.28,0.78),(1.29,0.48),(1.31,1.2),
    (1.32,0.92),(1.34,1.4),(1.35,0.6),(1.37,1.05),(1.38,1.28),(1.4,0.8),(1.41,1.58),(1.43,0.95),
    (1.44,1.15),(1.46,0.7),(1.47,1.35),(1.49,1.0),(1.5,0.82),(1.52,1.22),(1.55,0.95),(1.58,1.1),
    (1.62,0.85),
]

points = [[dirlab_affine, copd_affine, creatis_affine],
          [dirlab_coarse, copd_coarse, creatis_coarse],
          [dirlab_fine, copd_fine, creatis_fine]]

W, H = 787, 774
fig = plt.figure(figsize=(W / 100, H / 100), dpi=100)

lefts = [78, 332, 586]
tops = [9, 254, 499]
size = 193

for r in range(3):
    for c in range(3):
        ax = fig.add_axes([lefts[c] / W, 1 - (tops[r] + size) / H, size / W, size / H])
        ax.set_xlim(0, 4)
        ax.set_ylim(0, 4)
        ax.set_xticks(ticks)
        ax.set_yticks(ticks)
        ax.grid(True, color='#b4b4b4', lw=1.2)
        ax.set_axisbelow(True)
        ax.tick_params(length=0, labelsize=13.5, pad=4)
        for s in ax.spines.values():
            s.set_linewidth(1.8)

        xs = np.array(ax.get_xlim())
        wo = band_outer[r][c]
        wi = band_inner[r][c]
        ax.fill_between(xs, xs - wo, xs + wo, color='k', alpha=0.2, lw=0, zorder=1)
        ax.fill_between(xs, xs - wi, xs + wi, color='k', alpha=0.2, lw=0, zorder=1)
        ax.plot(xs, xs, color='k', lw=1.3, zorder=2)

        p = np.array(points[r][c])
        ax.scatter(p[:, 0], p[:, 1], s=19, facecolor='white', edgecolor='#0a0a14',
                   linewidths=1.25, zorder=3)

        if r == 2:
            fig.text((lefts[c] + size / 2) / W, 1 - 732 / H, 'Landmark TRE (mm)',
                     ha='center', va='center', fontsize=13)
            fig.text((lefts[c] + size / 2) / W, 1 - 762 / H, datasets[c],
                     ha='center', va='center', fontsize=14, fontweight='bold',
                     family='Liberation Sans')
    fig.text(12 / W, 1 - (tops[r] + size / 2 + 3) / H, methods[r], rotation=90,
             ha='center', va='center', fontsize=14, fontweight='bold',
             family='Liberation Sans')

fig.text(42 / W, 1 - (tops[1] + size / 2) / H, 'Estimated TRE (mm)', rotation=90,
         ha='center', va='center', fontsize=13)

fig.savefig('out.png', dpi=100)
